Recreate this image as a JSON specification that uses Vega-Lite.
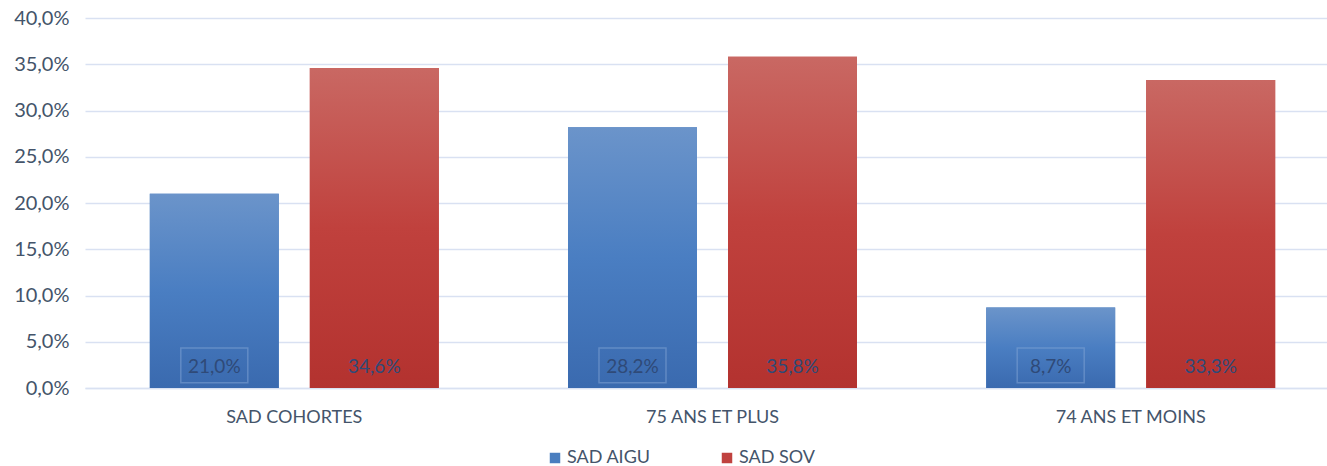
{
  "$schema": "https://vega.github.io/schema/vega-lite/v6.json",
  "width": 1242,
  "height": 370,
  "autosize": {"type": "none"},
  "padding": {"left": 85, "top": 18, "right": 0, "bottom": 78},
  "background": "white",
  "config": {
    "locale": {"number": {"decimal": ",", "thousands": " ", "grouping": [3], "currency": ["", " €"]}},
    "font": "Lato",
    "view": {"stroke": null}
  },
  "data": {
    "values": [
      {"groupe": "SAD COHORTES", "serie": "SAD AIGU", "valeur": 0.210},
      {"groupe": "SAD COHORTES", "serie": "SAD SOV", "valeur": 0.346},
      {"groupe": "75 ANS ET PLUS", "serie": "SAD AIGU", "valeur": 0.282},
      {"groupe": "75 ANS ET PLUS", "serie": "SAD SOV", "valeur": 0.358},
      {"groupe": "74 ANS ET MOINS", "serie": "SAD AIGU", "valeur": 0.087},
      {"groupe": "74 ANS ET MOINS", "serie": "SAD SOV", "valeur": 0.333}
    ]
  },
  "encoding": {
    "x": {
      "field": "groupe", "type": "nominal", "sort": null, "title": null,
      "scale": {"range": [0, 1255], "paddingInner": 0.309, "paddingOuter": 0.155},
      "axis": {"labelAngle": 0, "labelFontSize": 18, "labelColor": "#44546a", "labelPadding": 20, "ticks": false, "domainColor": "#d9e1f2", "domainWidth": 1.5, "labelFont": "Lato"}
    },
    "xOffset": {"field": "serie", "type": "nominal", "scale": {"paddingInner": 0.194, "paddingOuter": 0}}
  },
  "layer": [
    {
      "mark": {"type": "bar", "opacity": 1},
      "encoding": {
        "y": {
          "field": "valeur", "type": "quantitative", "title": null,
          "scale": {"domain": [0, 0.4], "nice": false},
          "axis": {"format": ".1%", "values": [0, 0.05, 0.1, 0.15, 0.2, 0.25, 0.3, 0.35, 0.4], "labelOverlap": false, "labelFontSize": 20, "labelColor": "#44546a", "labelPadding": 16, "ticks": false, "domain": false, "gridColor": "#d9e1f2", "gridWidth": 1.5, "labelFont": "Lato"}
        },
        "color": {
          "field": "serie", "type": "nominal",
          "scale": {"domain": ["SAD AIGU", "SAD SOV"], "range": ["#4a7ebf", "#c0423f"]},
          "legend": {"title": null, "orient": "none", "direction": "horizontal", "legendX": 461, "legendY": 431, "symbolType": "square", "symbolSize": 110, "symbolOpacity": 1, "labelFontSize": 18, "labelColor": "#44546a", "columnPadding": 67, "labelOffset": 3, "labelFont": "Lato"}
        }
      }
    },
    {
      "mark": {"type": "bar"},
      "encoding": {
        "y": {"field": "valeur", "type": "quantitative"},
        "fill": {
          "condition": {
            "test": "datum.serie === 'SAD AIGU'",
            "value": {"gradient": "linear", "x1": 0, "y1": 0, "x2": 0, "y2": 1, "stops": [{"offset": 0, "color": "#6b94ca"}, {"offset": 0.5, "color": "#4a7ec2"}, {"offset": 1, "color": "#3a6aaf"}]}
          },
          "value": {"gradient": "linear", "x1": 0, "y1": 0, "x2": 0, "y2": 1, "stops": [{"offset": 0, "color": "#c96863"}, {"offset": 0.5, "color": "#c0413d"}, {"offset": 1, "color": "#b3322f"}]}
        }
      }
    },
    {
      "transform": [{"filter": "datum.serie === 'SAD AIGU'"}],
      "mark": {"type": "point", "shape": "M-1,-0.52H1V0.52H-1Z", "size": 4489, "filled": false, "stroke": "#7fa3d3", "strokeOpacity": 0.55, "strokeWidth": 1.5, "opacity": 1},
      "encoding": {
        "y": {"datum": 0.0245, "type": "quantitative"}
      }
    },
    {
      "mark": {"type": "text", "dy": -21, "baseline": "middle", "fontSize": 19, "font": "Lato", "color": "#2f4a78"},
      "encoding": {
        "y": {"datum": 0, "type": "quantitative"},
        "text": {"field": "valeur", "type": "quantitative", "format": ".1%"}
      }
    }
  ]
}
